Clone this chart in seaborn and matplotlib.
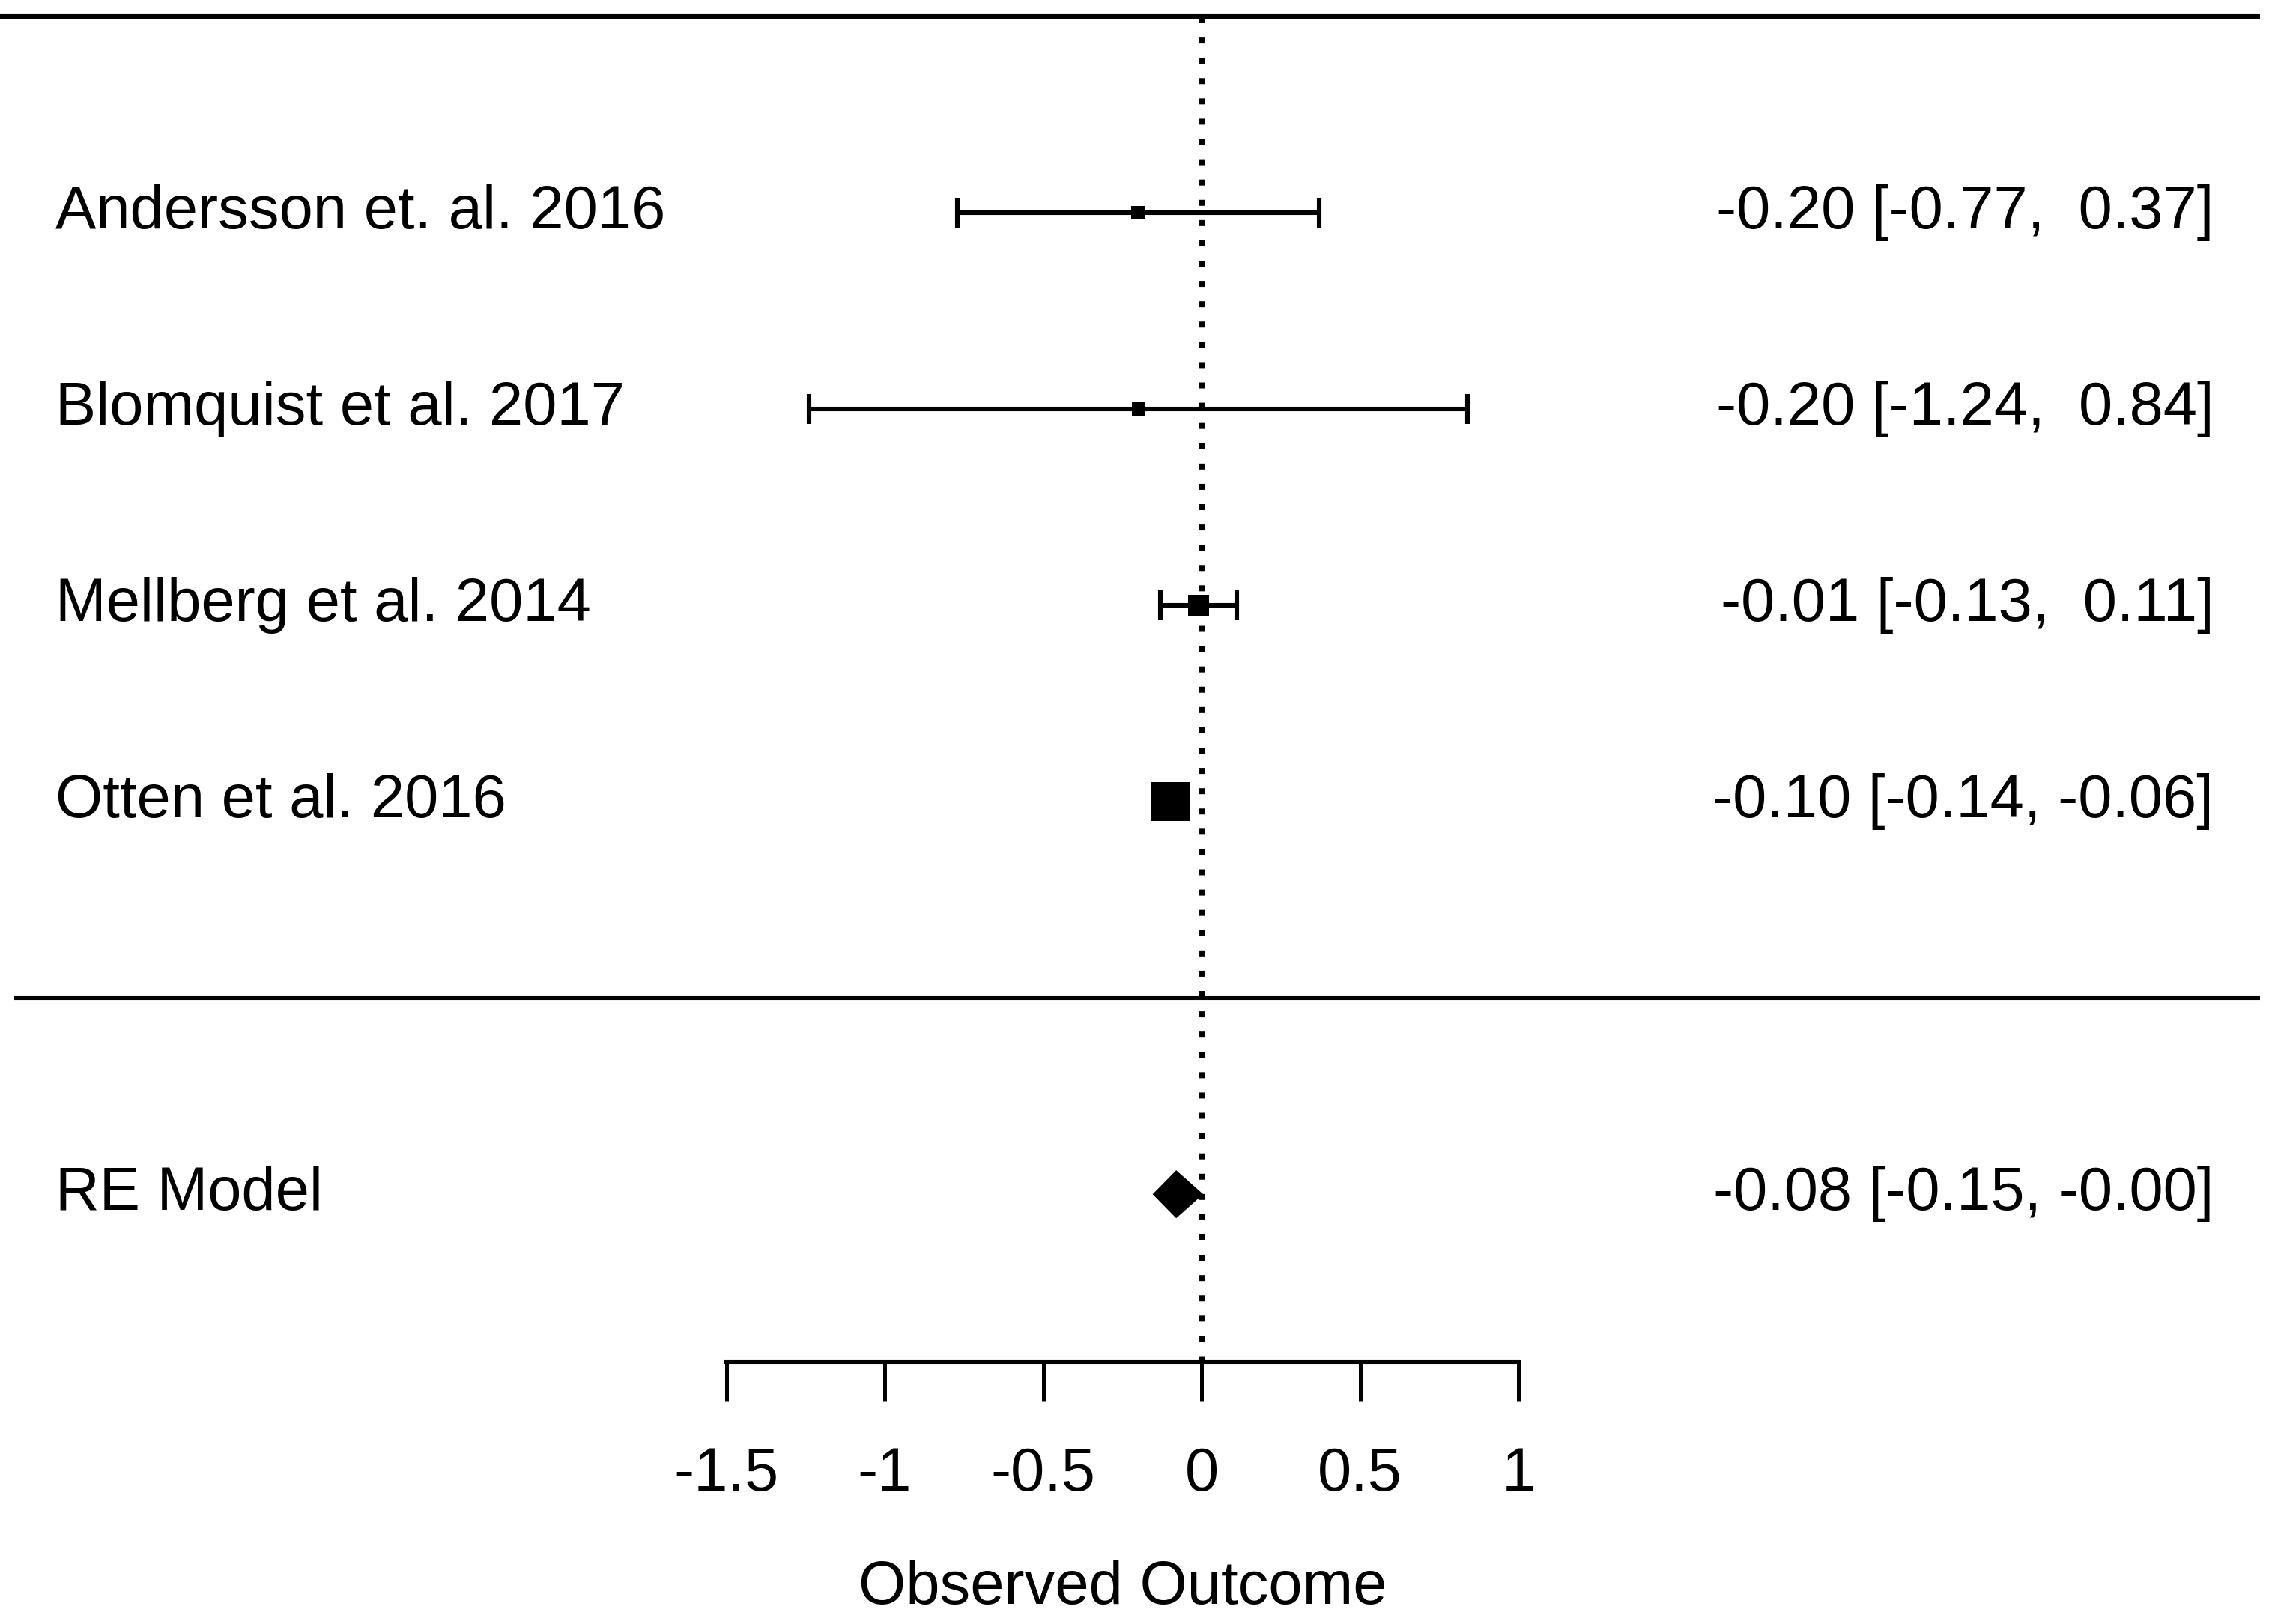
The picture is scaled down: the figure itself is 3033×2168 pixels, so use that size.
import numpy as np
import pandas as pd
import seaborn as sns
import matplotlib.pyplot as plt
from matplotlib.ticker import FuncFormatter

# Study data (estimates and 95% CI)
studies = ['Andersson et. al. 2016', 'Blomquist et al. 2017',
           'Mellberg et al. 2014', 'Otten et al. 2016']
est = [-0.20, -0.20, -0.01, -0.10]
ci_lo = [-0.77, -1.24, -0.13, -0.14]
ci_hi = [0.37, 0.84, 0.11, -0.06]
rows = [4, 3, 2, 1]

# Summary (random-effects model)
re_label = 'RE Model'
re_est = -0.08
re_lo = -0.15
re_hi = -0.00
re_row = -1

xticks = [-1.5, -1, -0.5, 0, 0.5, 1]
xlabel = 'Observed Outcome'

df = pd.DataFrame({'study': studies, 'est': est, 'lo': ci_lo, 'hi': ci_hi, 'row': rows})

# square size from inverse standard error, rescaled to 0.5-1.5 like metafor
se = (df.hi - df.lo) / (2 * 1.96)
w = 1 / se
df['psize'] = (w - w.min()) / (w.max() - w.min()) + 0.5
df['area'] = (df.psize * 12.5) ** 2

sns.set_style('ticks')
plt.rcParams['font.family'] = ['Liberation Sans', 'DejaVu Sans']
plt.rcParams['axes.unicode_minus'] = False
plt.rcParams['text.color'] = 'black'
plt.rcParams['axes.labelcolor'] = 'black'
plt.rcParams['xtick.color'] = 'black'
fs = 29.3

fig = plt.figure(figsize=(15.165, 10.84), dpi=200)
ax = fig.add_axes([0, 0, 1, 1])
ax.set_xlim(-3.792, 3.378)
ax.set_ylim(-3.19, 5.084)

# separators and reference line
ax.hlines(5, -3.792, 3.34, color='black', lw=2.2)
ax.hlines(0, -3.747, 3.34, color='black', lw=2.2)
ax.vlines(0, -1.855, 5, color='black', lw=2.5, linestyles=(0, (1.15, 2.75)))

# confidence intervals
ax.errorbar(df.est, df.row, xerr=[df.est - df.lo, df.hi - df.est], fmt='none',
            ecolor='black', elinewidth=2.2, capsize=7.3, capthick=2.2, zorder=2)
sns.scatterplot(data=df, x='est', y='row', size='area',
                sizes=dict(zip(df.area, df.area)), marker='s', color='black',
                linewidth=0, legend=False, ax=ax, zorder=3)

# summary diamond
ax.fill([re_lo, re_est, re_hi, re_est],
        [re_row, re_row + 0.115, re_row, re_row - 0.115], color='black', zorder=3)

# labels left and right
for _, r in df.iterrows():
    ax.text(-3.618, r.row, r.study, ha='left', va='center', fontsize=fs)
    ax.text(3.194, r.row, f'{r.est:5.2f} [{r.lo:5.2f}, {r.hi:5.2f}]',
            ha='right', va='center', fontsize=fs)
ax.text(-3.618, re_row, re_label, ha='left', va='center', fontsize=fs)
ax.text(3.194, re_row, f'{re_est:5.2f} [{re_lo:5.2f}, {re_hi:5.2f}]',
        ha='right', va='center', fontsize=fs)

# x axis
for s in ['top', 'right', 'left']:
    ax.spines[s].set_visible(False)
ax.spines['bottom'].set_position(('data', -1.855))
ax.spines['bottom'].set_bounds(xticks[0], xticks[-1])
ax.spines['bottom'].set_linewidth(2.2)
ax.spines['bottom'].set_color('black')
ax.set_yticks([])
ax.set_ylabel('')
ax.set_xticks(xticks)
ax.xaxis.set_major_formatter(FuncFormatter(lambda v, p: f'{v:g}'))
ax.tick_params(axis='x', direction='out', length=18.7, width=1.8, pad=22,
               labelsize=fs, color='black', labelcolor='black')
ax.set_xlabel(xlabel, fontsize=fs, labelpad=27)
# centre the label under the axis span rather than the figure
xmin, xmax = ax.get_xlim()
ax.xaxis.label.set_x(((xticks[0] + xticks[-1]) / 2 - xmin) / (xmax - xmin))

fig.savefig('out.png', dpi=200)
